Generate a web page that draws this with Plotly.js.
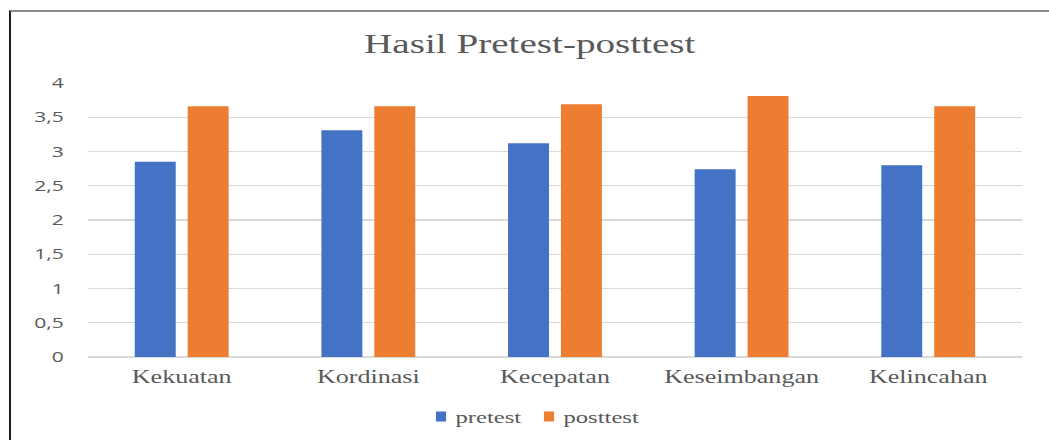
<!DOCTYPE html>
<html>
<head>
<meta charset="utf-8">
<script src="https://cdn.plot.ly/plotly-3.0.1.min.js"></script>
<style>
  html, body { margin:0; padding:0; background:#fff; overflow:hidden; }
  #wrap { position:absolute; left:0; top:0; width:724px; height:440px; transform-origin:0 0; transform:scaleX(1.449); }
  #chart { width:724px; height:440px; }
  #frame { position:absolute; left:9px; top:10px; width:1100px; height:500px; border-left:2px solid #1a1a1a; border-top:2px solid #8a8a8a; pointer-events:none; }
</style>
</head>
<body>
<div id="wrap"><div id="chart"></div></div>
<div id="frame"></div>
<script>
const categories = ["Kekuatan", "Kordinasi", "Kecepatan", "Keseimbangan", "Kelincahan"];
const pretest = [2.85, 3.31, 3.12, 2.74, 2.80];
const posttest = [3.66, 3.66, 3.69, 3.81, 3.66];
const yTicks = [0, 0.5, 1, 1.5, 2, 2.5, 3, 3.5, 4];

const serif = "Liberation Serif, DejaVu Serif, serif";
const SX = 1.449;

const traces = [
  { type: "bar", name: "pretest", x: categories, y: pretest, marker: { color: "#4472C4" }, hoverinfo: "skip" },
  { type: "bar", name: "posttest", x: categories, y: posttest, marker: { color: "#ED7D31" }, hoverinfo: "skip" }
];

const layout = {
  width: 724, height: 440,
  paper_bgcolor: "#fff", plot_bgcolor: "#fff",
  separators: ",.",
  margin: { l: 61, r: 19, t: 83, b: 83 },
  barmode: "group", bargap: 0.433, bargroupgap: 0.226,
  title: {
    text: "Hasil Pretest-posttest",
    font: { family: serif, size: 27, color: "#595959" },
    x: 0.505, xref: "container", xanchor: "center",
    y: 1 - 44/440, yref: "container", yanchor: "middle"
  },
  xaxis: {
    tickfont: { family: serif, size: 18, color: "#595959" },
    showgrid: false, ticks: "", showline: false, zeroline: false,
    ticklabelstandoff: 7
  },
  yaxis: {
    range: [0, 4], tickvals: yTicks,
    tickfont: { family: "Open Sans, Noto Sans, sans-serif", size: 14.5, color: "#595959" },
    showgrid: true, gridcolor: "#D9D9D9", gridwidth: 1.3,
    zeroline: true, zerolinecolor: "#D9D9D9", zerolinewidth: 1.6,
    ticks: "", showline: false, ticklabelstandoff: 16
  },
  showlegend: true,
  legend: {
    orientation: "h", xref: "container", x: 0.513, xanchor: "center",
    yref: "container", y: 1 - 417/440, yanchor: "middle",
    font: { family: serif, size: 17, color: "#595959" },
    itemwidth: 30, traceorder: "normal"
  }
};

Plotly.newPlot("chart", traces, layout, { staticPlot: true, displayModeBar: false }).then(function () {
  const targets = [441, 549]; // page-x centres of legend swatches in the reference
  const items = document.querySelectorAll("#chart .legend g.traces");
  items.forEach(function (g, i) {
    const p = g.querySelector(".legendpoints path");
    const t = g.querySelector("text.legendtext");
    if (p) p.setAttribute("d", "M3.5,5H-3.5V-5H3.5Z");
    if (t) t.setAttribute("x", "30");
    if (!p || targets[i] === undefined) return;
    const r = p.getBoundingClientRect();
    const cur = r.left + r.width / 2;
    const m = /translate\(\s*([-\d.e]+)[ ,]+([-\d.e]+)\s*\)/.exec(g.getAttribute("transform") || "translate(0,0)");
    const tx = m ? parseFloat(m[1]) : 0, ty = m ? parseFloat(m[2]) : 0;
    g.setAttribute("transform", "translate(" + (tx + (targets[i] - cur) / SX) + "," + ty + ")");
  });
});
</script>
</body>
</html>
